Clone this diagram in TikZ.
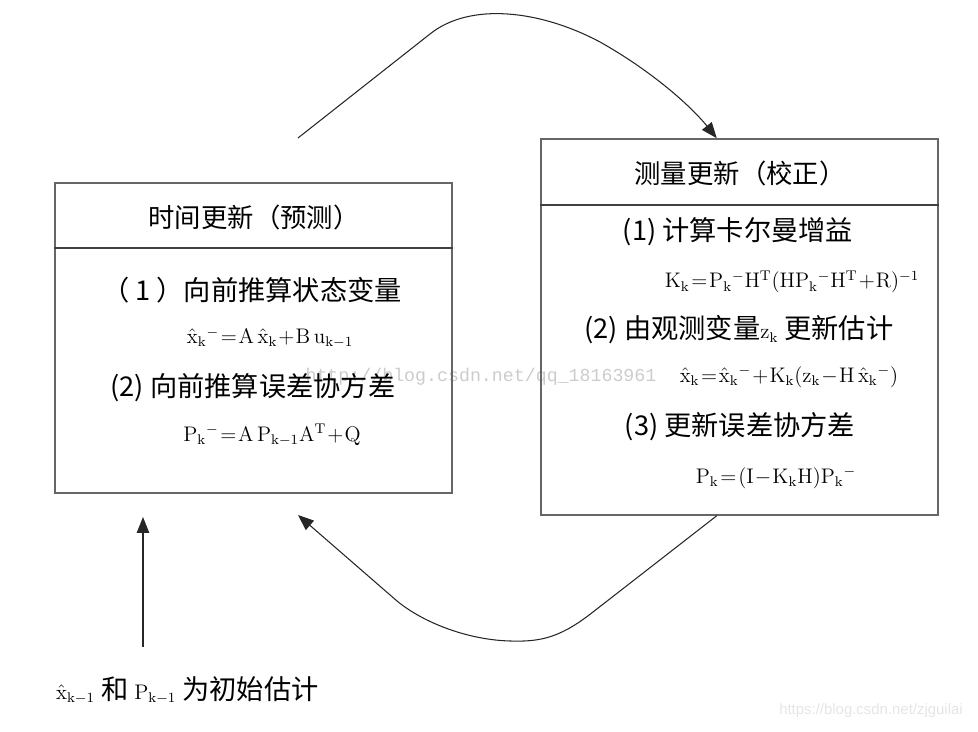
\documentclass[tikz,border=0pt]{standalone}
\usepackage[no-math]{fontspec}
\setmainfont{Noto Sans CJK SC}
\newfontfamily\wmmono{Liberation Mono}
\newfontfamily\wmsans{Liberation Sans}
\usetikzlibrary{arrows.meta,calc}

\newcommand\eqfont{\fontsize{12}{14.5}\selectfont\thickmuskip=1.5mu\medmuskip=1mu}

\tikzset{
  box/.style={draw=black!60, line width=0.9pt, minimum width=7.94cm, inner sep=0pt},
  headline/.style={draw=black!75, line width=0.9pt},
  head/.style={font=\fontsize{15}{18}\selectfont},
  item/.style={font=\fontsize{15.5}{18}\selectfont},
  eq/.style={font=\eqfont},
  flow/.style={-{Triangle[length=9pt,width=7pt]}, line width=0.6pt, black!85},
  wmark/.style={text=black!20, inner sep=0pt}
}

\begin{document}
\begin{tikzpicture}[x=0.02cm, y=-0.02cm]
  \useasboundingbox (0,0) rectangle (978,732);
  % watermarks
  \node[wmark, font=\wmmono\fontsize{10.4}{12}\selectfont] (wmleft) at (481,377) {http://blog.csdn.net/qq\_18163961};
  \node[wmark, text=black!10, font=\wmsans\fontsize{8.5}{10}\selectfont] (wmright) at (871,711) {https://blog.csdn.net/zjguilai};

  % the two boxes
  \node[box, minimum height=6.2cm] (pred) at (253.5,338) {};
  \node[box, minimum height=7.52cm] (meas) at (739.5,327) {};
  \draw[headline] ([yshift=-1.32cm]pred.north west) -- ([yshift=-1.32cm]pred.north east);
  \draw[headline] ([yshift=-1.34cm]meas.north west) -- ([yshift=-1.34cm]meas.north east);

  % time update
  \node[head] (predtitle) at (254,217) {时间更新（预测）};
  \node[item] (predstep1) at (252,290) {（ 1 ）向前推算状态变量};
  \node[eq] (predeq1) at (270,338) {$\mathrm{\hat{x}_k{}^{-}=A\,\hat{x}_k+B\,u_{k-1}}$};
  \node[item] (predstep2) at (253,388) {(2) 向前推算误差协方差};
  \node[eq] (predeq2) at (272,435) {$\mathrm{P_k{}^{-}=A\,P_{k-1}A^T+Q}$};

  % measurement update
  \node[head] (meastitle) at (740,173) {测量更新（校正）};
  \node[item] (measstep1) at (738,232) {(1) 计算卡尔曼增益};
  \node[eq] (measeq1) at (792,282) {$\mathrm{K_k=P_k{}^{-}H^T(HP_k{}^{-}H^T+R)^{-1}}$};
  \node[item] (measstep2) at (739,330) {(2) 由观测变量{\eqfont$\mathrm{z_k}$} 更新估计};
  \node[eq] (measeq2) at (789,377) {$\mathrm{\hat{x}_k=\hat{x}_k{}^{-}+K_k(z_k-H\,\hat{x}_k{}^{-})}$};
  \node[item] (measstep3) at (740,427) {(3) 更新误差协方差};
  \node[eq] (measeq3) at (776,478) {$\mathrm{P_k=(I-K_kH)P_k{}^{-}}$};

  % initial estimate
  \node[item, anchor=west] (init) at (50,690) {{\eqfont$\mathrm{\hat{x}_{k-1}}$} 和 {\eqfont$\mathrm{P_{k-1}}$} 为初始估计};

  % arrow ends
  \coordinate (predout) at (298,138);
  \coordinate (predin) at (298,515);
  \coordinate (measin) at ($(meas.north west)!0.443!(meas.north east)$);
  \coordinate (measout) at ($(meas.south west)!0.443!(meas.south east)$);
  \coordinate (initup) at (143,647);
  \coordinate (predbase) at (143,517);

  \draw[flow] (predout) -- (430,34) .. controls (470,2) and (540,10) .. (600,42)
    .. controls (650,70) and (690,105) .. (measin);
  \draw[flow] (measout) -- (593,612) .. controls (560,638) and (540,642) .. (510,641)
    .. controls (470,640) and (425,624) .. (397,601) -- (predin);
  \draw[flow] (initup) -- (predbase);
\end{tikzpicture}
\end{document}
